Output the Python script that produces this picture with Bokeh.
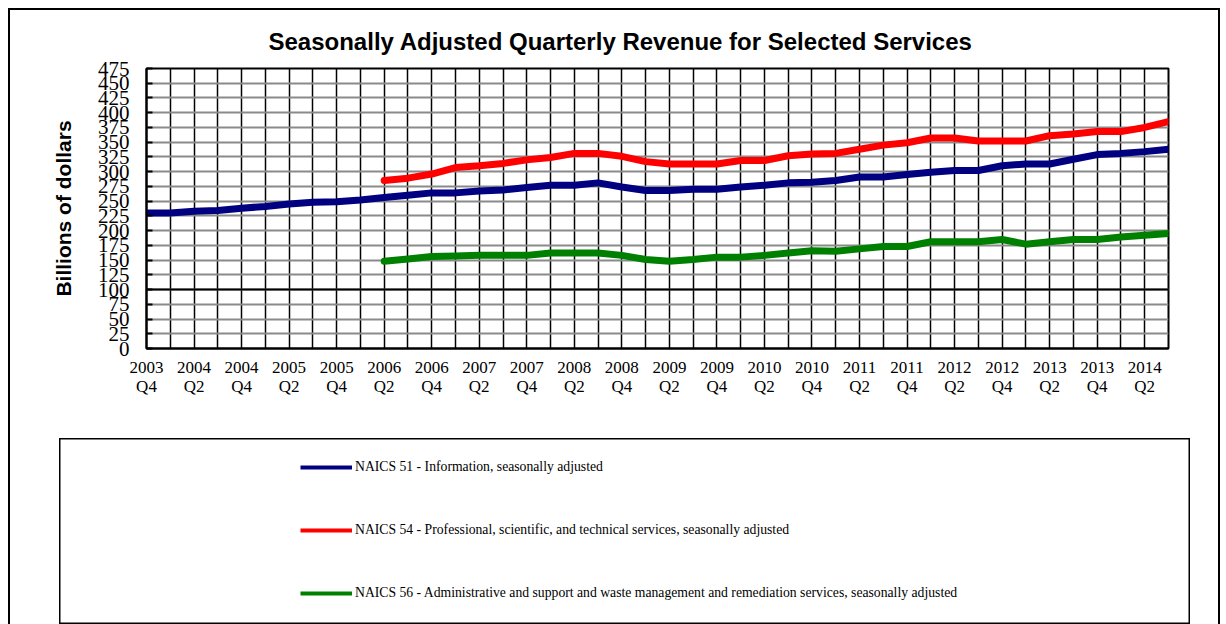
from bokeh.plotting import figure
from bokeh.layouts import column
from bokeh.models import (Range1d, FixedTicker, Span, Legend, LegendItem, AllLabels)
from bokeh.embed import file_html
from bokeh.resources import INLINE

# ---------------- data ----------------
quarters = [
    "2003 Q4", "2004 Q1", "2004 Q2", "2004 Q3", "2004 Q4", "2005 Q1", "2005 Q2", "2005 Q3",
    "2005 Q4", "2006 Q1", "2006 Q2", "2006 Q3", "2006 Q4", "2007 Q1", "2007 Q2", "2007 Q3",
    "2007 Q4", "2008 Q1", "2008 Q2", "2008 Q3", "2008 Q4", "2009 Q1", "2009 Q2", "2009 Q3",
    "2009 Q4", "2010 Q1", "2010 Q2", "2010 Q3", "2010 Q4", "2011 Q1", "2011 Q2", "2011 Q3",
    "2011 Q4", "2012 Q1", "2012 Q2", "2012 Q3", "2012 Q4", "2013 Q1", "2013 Q2", "2013 Q3",
    "2013 Q4", "2014 Q1", "2014 Q2", "2014 Q3",
]
nan = float("nan")
naics51 = [230, 230, 233, 234, 238, 241, 245, 248, 249, 252, 256, 260, 264, 264, 267, 269,
           273, 277, 277, 281, 274, 268, 268, 270, 270, 274, 277, 281, 282, 285, 291, 291,
           295, 299, 302, 302, 310, 313, 313, 321, 329, 331, 334, 338]
naics54 = [nan] * 10 + [285, 289, 296, 307, 310, 314, 320, 324, 331, 331, 326, 317, 313, 313,
                        313, 319, 319, 327, 330, 331, 338, 345, 349, 357, 357, 352, 352, 352,
                        361, 364, 368, 368, 375, 385]
naics56 = [nan] * 10 + [148, 152, 156, 157, 158, 158, 158, 162, 162, 162, 158, 151, 148, 151,
                        155, 155, 158, 162, 166, 165, 169, 173, 173, 181, 181, 181, 185, 177,
                        181, 185, 185, 189, 192, 195]
series_labels = [
    "NAICS 51 - Information, seasonally adjusted",
    "NAICS 54 - Professional, scientific, and technical services, seasonally adjusted",
    "NAICS 56 - Administrative and support and waste management and remediation services, seasonally adjusted",
]
series_colors = ["#000080", "#FF0000", "#008000"]
title_text = "Seasonally Adjusted Quarterly Revenue for Selected Services"
y_title = "Billions of dollars"
y_max = 475
y_step = 25
highlight_level = 100

# ---------------- chart figure ----------------
x = list(range(len(quarters)))

p = figure(width=1208, height=420, output_backend="svg", toolbar_location=None,
           x_range=Range1d(0, len(quarters) - 1), y_range=Range1d(0, y_max),
           min_border_left=136, min_border_right=50, min_border_top=58,
           min_border_bottom=82)
p.frame_align = False
p.background_fill_color = "white"
p.border_fill_color = "white"
p.outline_line_color = "black"
p.outline_line_width = 2

p.title.text = title_text
p.title.align = "left"
p.title.offset = 122
p.title.standoff = 27
p.title.text_font = "Liberation Sans"
p.title.text_font_size = "24px"
p.title.text_font_style = "bold"
p.title.text_color = "black"

label_ticks = [i for i in x if i % 2 == 0]
p.xaxis.ticker = FixedTicker(ticks=label_ticks)
p.xaxis.major_label_overrides = {i: quarters[i].replace(" ", "\n") for i in label_ticks}
p.xaxis.major_label_text_font = "Liberation Serif"
p.xaxis.major_label_text_font_size = "17px"
p.xaxis.major_label_text_line_height = 1.05
p.xaxis.major_label_text_color = "black"
p.xaxis.major_label_standoff = 9
p.xaxis.major_tick_out = 0
p.xaxis.major_tick_in = 0
p.xaxis.minor_tick_out = 0
p.xaxis.minor_tick_in = 0
p.xaxis.axis_line_color = "black"
p.xaxis.axis_line_width = 2
p.xaxis.major_label_policy = AllLabels()

yticks = list(range(0, y_max + 1, y_step))
p.yaxis.ticker = FixedTicker(ticks=yticks)
p.yaxis.major_label_text_font = "Liberation Serif"
p.yaxis.major_label_text_font_size = "21px"
p.yaxis.major_label_text_color = "black"
p.yaxis.major_label_standoff = 17
p.yaxis.major_tick_in = 6
p.yaxis.major_tick_out = 0
p.yaxis.major_tick_line_color = "black"
p.yaxis.major_tick_line_width = 2
p.yaxis.minor_tick_out = 0
p.yaxis.minor_tick_in = 0
p.yaxis.axis_line_color = "black"
p.yaxis.axis_line_width = 2
p.yaxis.major_label_policy = AllLabels()
p.yaxis.axis_label = y_title
p.yaxis.axis_label_text_font = "Liberation Sans"
p.yaxis.axis_label_text_font_size = "21px"
p.yaxis.axis_label_text_font_style = "bold"
p.yaxis.axis_label_text_color = "black"
p.yaxis.axis_label_standoff = 20

p.xgrid.ticker = FixedTicker(ticks=x)
p.xgrid.grid_line_color = "black"
p.xgrid.grid_line_width = 1.5
p.ygrid.ticker = FixedTicker(ticks=yticks)
p.ygrid.grid_line_color = "#8a8a8a"
p.ygrid.grid_line_width = 2

p.add_layout(Span(location=highlight_level, dimension="width", line_color="black",
                  line_width=2, level="underlay"))

for vals, col in zip([naics51, naics54, naics56], series_colors):
    p.line(x, vals, line_color=col, line_width=7, line_join="round", line_cap="round")

# ---------------- legend box figure ----------------
lg = figure(width=1131, height=186, output_backend="svg", toolbar_location=None,
            x_range=Range1d(0, 1), y_range=Range1d(0, 1),
            x_axis_location=None, y_axis_location=None,
            min_border_left=0, min_border_right=0, min_border_top=0, min_border_bottom=0)
lg.frame_align = False
lg.grid.visible = False
lg.background_fill_color = "white"
lg.border_fill_color = "white"
lg.outline_line_color = "black"
lg.outline_line_width = 2
lg.margin = (8, 0, 0, 49)

items = []
for lab, col in zip(series_labels, series_colors):
    # legend-only renderer (draws nothing in the box itself)
    r = lg.line([0], [nan], line_color=col, line_width=4)
    items.append(LegendItem(label=lab, renderers=[r]))

legend = Legend(items=items, location=(241, 23), orientation="vertical",
                glyph_width=52, glyph_height=14, label_height=14, spacing=47,
                padding=0, margin=0, label_standoff=3,
                label_text_font="Liberation Serif", label_text_font_size="13.7px",
                label_text_color="black",
                border_line_alpha=0, background_fill_alpha=0)
lg.add_layout(legend, "center")

root = column(p, lg, styles={"border-left": "2px solid black",
                             "border-top": "2px solid black",
                             "border-right": "2px solid black"})
root.margin = (8, 0, 0, 8)

open("out.html", "w").write(file_html(root, INLINE))
